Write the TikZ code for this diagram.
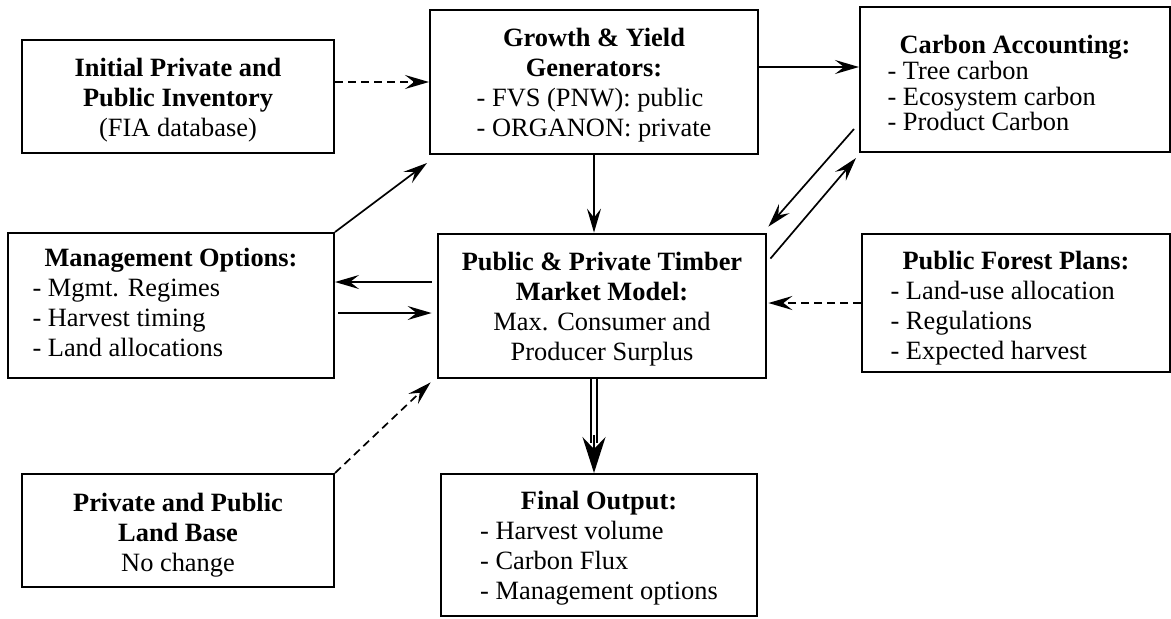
\documentclass[tikz,border=0pt]{standalone}
\usepackage{fontspec}
\setmainfont{Liberation Serif}
\usetikzlibrary{arrows.meta,calc}
\newcommand\toppad[1]{\rule{0pt}{#1}}
\begin{document}
\begin{tikzpicture}[x=0.5pt,y=-0.5pt,
  box/.style={draw, line width=1pt, inner sep=0pt, align=center,
    font=\fontsize{13.2pt}{15pt}\selectfont},
  mainbox/.style={box, line width=1.4pt},
  arr/.style={line width=0.85pt, -{Stealth[length=12pt,width=7pt,inset=4.5pt]}},
  dasharr/.style={arr, dash pattern=on 4pt off 2.5pt},
  bighead/.style={line width=0.9pt, -{Stealth[length=18pt,width=11.5pt,inset=6pt]}}
]
\useasboundingbox (0,0) rectangle (1171,618);

\node[box, minimum width=156pt, minimum height=56.5pt] (A) at (178,96.5)
  {\toppad{13pt}\textbf{Initial Private and}\\\textbf{Public Inventory}\\(FIA database)};

\node[box, minimum width=164pt, minimum height=72pt] (B) at (594,82)
  {\begin{tabular}{@{}l@{}}\multicolumn{1}{c}{\toppad{13.5pt}\textbf{Growth \& Yield}}\\
   \multicolumn{1}{c}{\textbf{Generators:}}\\- FVS (PNW): public\\- ORGANON: private\end{tabular}};

\node[box, minimum width=155pt, minimum height=72.5pt,
  font=\fontsize{13.2pt}{12.5pt}\selectfont] (C) at (1015,79.5)
  {\begin{tabular}{@{}l@{}}\multicolumn{1}{c}{\toppad{16.5pt}\textbf{Carbon Accounting:}}\\
   - Tree carbon\\- Ecosystem carbon\\- Product Carbon\end{tabular}};

\node[box, minimum width=163pt, minimum height=72.5pt] (F) at (171,305.5)
  {\begin{tabular}{@{}l@{}}\multicolumn{1}{c}{\textbf{Management Options:}}\\
   - Mgmt. Regimes\\- Harvest timing\\- Land allocations\end{tabular}};

\node[mainbox, minimum width=164pt, minimum height=72pt] (D) at (602,306)
  {\toppad{12pt}\textbf{Public \& Private Timber}\\\textbf{Market Model:}\\Max. Consumer and\\Producer Surplus};

\node[box, minimum width=154pt, minimum height=69pt] (H) at (1016,303)
  {\begin{tabular}{@{}l@{}}\multicolumn{1}{c}{\toppad{16pt}\textbf{Public Forest Plans:}}\\
   - Land-use allocation\\- Regulations\\- Expected harvest\end{tabular}};

\node[box, minimum width=156pt, minimum height=56.5pt] (G) at (178,530.5)
  {\toppad{14pt}\textbf{Private and Public}\\\textbf{Land Base}\\No change};

\node[box, minimum width=158pt, minimum height=71pt] (E) at (599,545)
  {\begin{tabular}{@{}l@{}}\multicolumn{1}{c}{\toppad{13.5pt}\textbf{Final Output:}}\\
   - Harvest volume\\- Carbon Flux\\- Management options\end{tabular}};

% connectors
\draw[dasharr] (A.east |- B.west) -- (B.west);
\coordinate (bc) at ($(B.east)+(0,-15)$);
\draw[arr] (bc) -- (C.west |- bc);
\draw[arr] (B.south) -- (B.south |- D.north);
\draw[arr] ($(C.south west)+(-5,-24)$) -- ($(D.north east)+(1,-6)$);
\draw[arr] ($(D.north east)+(3,26)$) -- ($(C.south west)+(-3,5)$);
\coordinate (df) at ($(D.west)+(-5,-24)$);
\draw[arr] (df) -- (F.east |- df);
\coordinate (fd) at ($(F.east)+(3,7.5)$);
\draw[arr, shorten >=2.5pt] (fd) -- (D.west |- fd);
\draw[arr] (F.north east) -- ($(B.south west)+(-2,8)$);
\draw[dasharr, shorten >=0.5pt] (H.west) -- (D.east |- H.west);
\draw[dasharr] (G.north east) -- ($(D.south west)+(-6,3)$);

% double arrow D -> E
\coordinate (ds) at (B.south |- D.south);
\coordinate (et) at (B.south |- E.north);
\draw[line width=0.9pt] ($(ds)+(-3.3,0)$) -- ($(et)+(-3.3,-30)$);
\draw[line width=0.9pt] ($(ds)+(3.3,0)$) -- ($(et)+(3.3,-30)$);
\draw[bighead] ($(et)+(0,-38)$) -- (et);
\end{tikzpicture}
\end{document}
